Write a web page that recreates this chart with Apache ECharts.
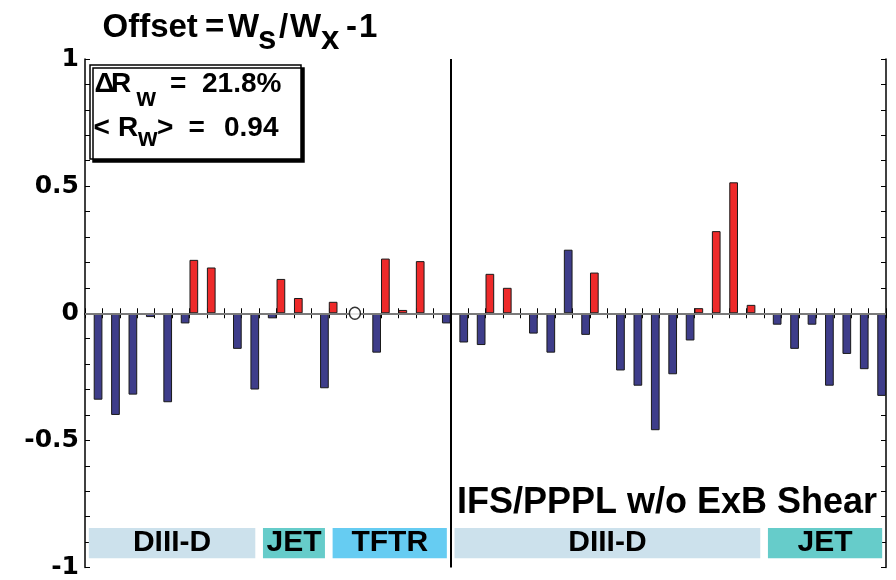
<!DOCTYPE html>
<html>
<head>
<meta charset="utf-8">
<script src="https://cdn.jsdelivr.net/npm/echarts@6/dist/echarts.min.js"></script>
<style>html,body{margin:0;padding:0;background:#fff}#c{width:896px;height:580px}</style>
</head>
<body>
<div id="c"></div>
<script>
// ---- data ----
const caseLabels = ['1','2','3','4','5','6','7','8','9','10','11','12','13','14','15','16','17','18','19','20','21','22','23','24','25','26','27','28','29','30','31','32','33','34','35','36','37','38','39','40','41','42','43','44','45','46'];
// red offsets, one per case, null where the case is drawn in blue
const redVals = [null,null,null,null,null,null,0.21,0.18,null,null,null,0.135,0.06,null,0.045,null,null,0.215,0.013,0.205,null,null,null,0.155,0.10,null,null,null,null,0.16,null,null,null,null,null,0.02,0.323,0.515,0.033,null,null,null,null,null,null,null];
// blue offsets
const blueVals = [-0.34,-0.40,-0.32,-0.015,-0.35,-0.04,null,null,-0.14,-0.30,-0.02,null,null,-0.295,null,null,-0.155,null,null,null,-0.04,-0.115,-0.125,null,null,-0.08,-0.155,0.25,-0.085,null,-0.225,-0.285,-0.46,-0.24,-0.107,null,null,null,null,-0.045,-0.14,-0.045,-0.285,-0.16,-0.22,-0.325];
// open circle (case with zero offset)
const circleVals = ['-','-','-','-','-','-','-','-','-','-','-','-','-','-','-',0,'-','-','-','-','-','-','-','-','-','-','-','-','-','-','-','-','-','-','-','-','-','-','-','-','-','-','-','-','-','-'];
// y ticks
const yTicks = [-1, -0.5, 0, 0.5, 1];
// machine groups (case-slot boundaries)
const groupNames = ['DIII-D','JET','TFTR','DIII-D','JET'];
const groupStart = [0, 10, 14, 21, 39];
const groupEnd = [10, 14, 21, 39, 46];
const dividerAt = 21;
const titleText = 'Offset = W_s / W_x - 1';
const statRw = '21.8%';
const statMeanRw = '0.94';
const modelLabel = 'IFS/PPPL w/o ExB Shear';

// ---- styles ----
const groupColors = ['#CCE1EC','#66CCCA','#66CCF2','#CCE1EC','#66CCCA'];
const RED = '#EE2A2A', BLUE = '#3E3D8A';
const inset = 0.22, boxTop = -0.845, boxBot = -0.964;
const FONT = 'Liberation Sans';

function txt(s, x, y, size, z) {
  return {type:'text', x:x, y:y, z:z||11,
    style:{text:s, fill:'#000', align:'left', verticalAlign:'middle',
      fontFamily:FONT, fontWeight:'bold', fontSize:size}};
}

const chart = echarts.init(document.getElementById('c'), null, {renderer:'canvas'});
const axisCommon = {
  axisLine:{show:true, lineStyle:{color:'#000', width:1.5}},
  splitLine:{show:false}
};
const markAreaData = groupNames.map((n,i)=>[
  {name:n, xAxis: groupStart[i]+inset, yAxis: boxTop, itemStyle:{color:groupColors[i]}},
  {xAxis: groupEnd[i]-inset, yAxis: boxBot}
]);

// title pieces (W with subscripts)
const tParts = titleText.split(/[ _]/); // ['Offset','=','W','s','/','W','x','-','1']
const TY = 27.5, SY = 40, TS = 33;
const titleGraphics = [
  txt(tParts[0], 102.5, TY, TS), txt(tParts[1], 205, TY, TS), txt(tParts[2], 228, TY, TS),
  txt(tParts[3], 258, SY, TS), txt(tParts[4], 279, TY, TS), txt(tParts[5], 290, TY, TS),
  txt(tParts[6], 321, SY, TS), txt(tParts[7], 346, TY, TS), txt(tParts[8], 359, TY, TS)
];
const boxGraphics = [
  {type:'rect', shape:{x:90, y:65, width:211, height:94}, z:10,
    style:{fill:'#fff', stroke:'#000', lineWidth:1.5, shadowColor:'#000', shadowOffsetX:3, shadowOffsetY:3, shadowBlur:0}},
  txt('\u0394', 94.5, 84.5, 28), txt('R', 111, 84.5, 28), txt('w', 136.5, 99.3, 25),
  txt('=', 170, 84.5, 28), txt(statRw, 202, 84.5, 28),
  txt('<', 93.5, 128, 28), txt('R', 118, 128, 28), txt('w', 138, 139.3, 25),
  txt('>', 157, 128, 28), txt('=', 188.5, 128, 28), txt(statMeanRw, 224, 128, 28)
];

chart.setOption({
  animation:false,
  grid:{left:85, top:59, width:801, height:511, containLabel:false},
  xAxis:[
    Object.assign({type:'category', data:caseLabels, position:'bottom', boundaryGap:true,
      axisTick:{show:true, inside:true, length:5, interval:0, alignWithLabel:false, lineStyle:{color:'#000', width:1}},
      axisLabel:{show:false}}, axisCommon),
    Object.assign({type:'category', data:caseLabels, position:'top', boundaryGap:true,
      axisTick:{show:true, inside:true, length:5, interval:0, lineStyle:{color:'#000', width:1}},
      axisLabel:{show:false}}, axisCommon),
    {type:'value', min:0, max:46, show:false}
  ],
  yAxis:[
    Object.assign({type:'value', min:-1, max:1, interval:0.5, position:'left',
      axisTick:{show:true, inside:true, length:5, lineStyle:{color:'#000', width:1}},
      minorTick:{show:true, splitNumber:5, length:5, lineStyle:{color:'#000', width:1}},
      axisLabel:{show:true, margin:6, color:'#000', fontFamily:'DejaVu Sans', fontWeight:'bold', fontSize:25,
        formatter:(v)=> yTicks.includes(v) ? String(v) : ''}}, axisCommon),
    Object.assign({type:'value', min:-1, max:1, interval:0.5, position:'right',
      axisTick:{show:true, inside:true, length:5, lineStyle:{color:'#000', width:1}},
      minorTick:{show:true, splitNumber:5, length:5, lineStyle:{color:'#000', width:1}},
      axisLabel:{show:false}}, axisCommon)
  ],
  series:[
    {type:'bar', name:'red', xAxisIndex:0, yAxisIndex:0, data:redVals, barWidth:8.7, barGap:'0%',
      itemStyle:{color:RED, borderColor:'#1a1a1a', borderWidth:1}, z:3},
    {type:'bar', name:'blue', xAxisIndex:0, yAxisIndex:0, data:blueVals, barWidth:8.7, barGap:'0%',
      itemStyle:{color:BLUE, borderColor:'#1a1a1a', borderWidth:1}, z:3},
    {type:'scatter', xAxisIndex:0, yAxisIndex:0, data:circleVals, symbol:'circle', symbolSize:[11,12],
      itemStyle:{color:'#fff', borderColor:'#000', borderWidth:1.5}, z:6},
    {type:'line', xAxisIndex:2, yAxisIndex:0, data:[], silent:true,
      markLine:{silent:true, symbol:['none','none'], label:{show:false}, z:5,
        data:[
          {yAxis:0, lineStyle:{color:'#7a7a7a', width:1.8, type:'solid'}},
          {xAxis:dividerAt, lineStyle:{color:'#000', width:2, type:'solid'}}
        ]},
      markArea:{silent:true, z:1,
        label:{show:true, position:'inside', color:'#000', fontFamily:FONT, fontWeight:'bold', fontSize:30},
        data:markAreaData}
    }
  ],
  graphic: titleGraphics.concat(boxGraphics).concat([
    {type:'text', x:877, y:503, z:10,
      style:{text:modelLabel, fill:'#000', align:'right', verticalAlign:'middle',
        fontFamily:FONT, fontWeight:'bold', fontSize:36}}
  ])
});
</script>
</body>
</html>
